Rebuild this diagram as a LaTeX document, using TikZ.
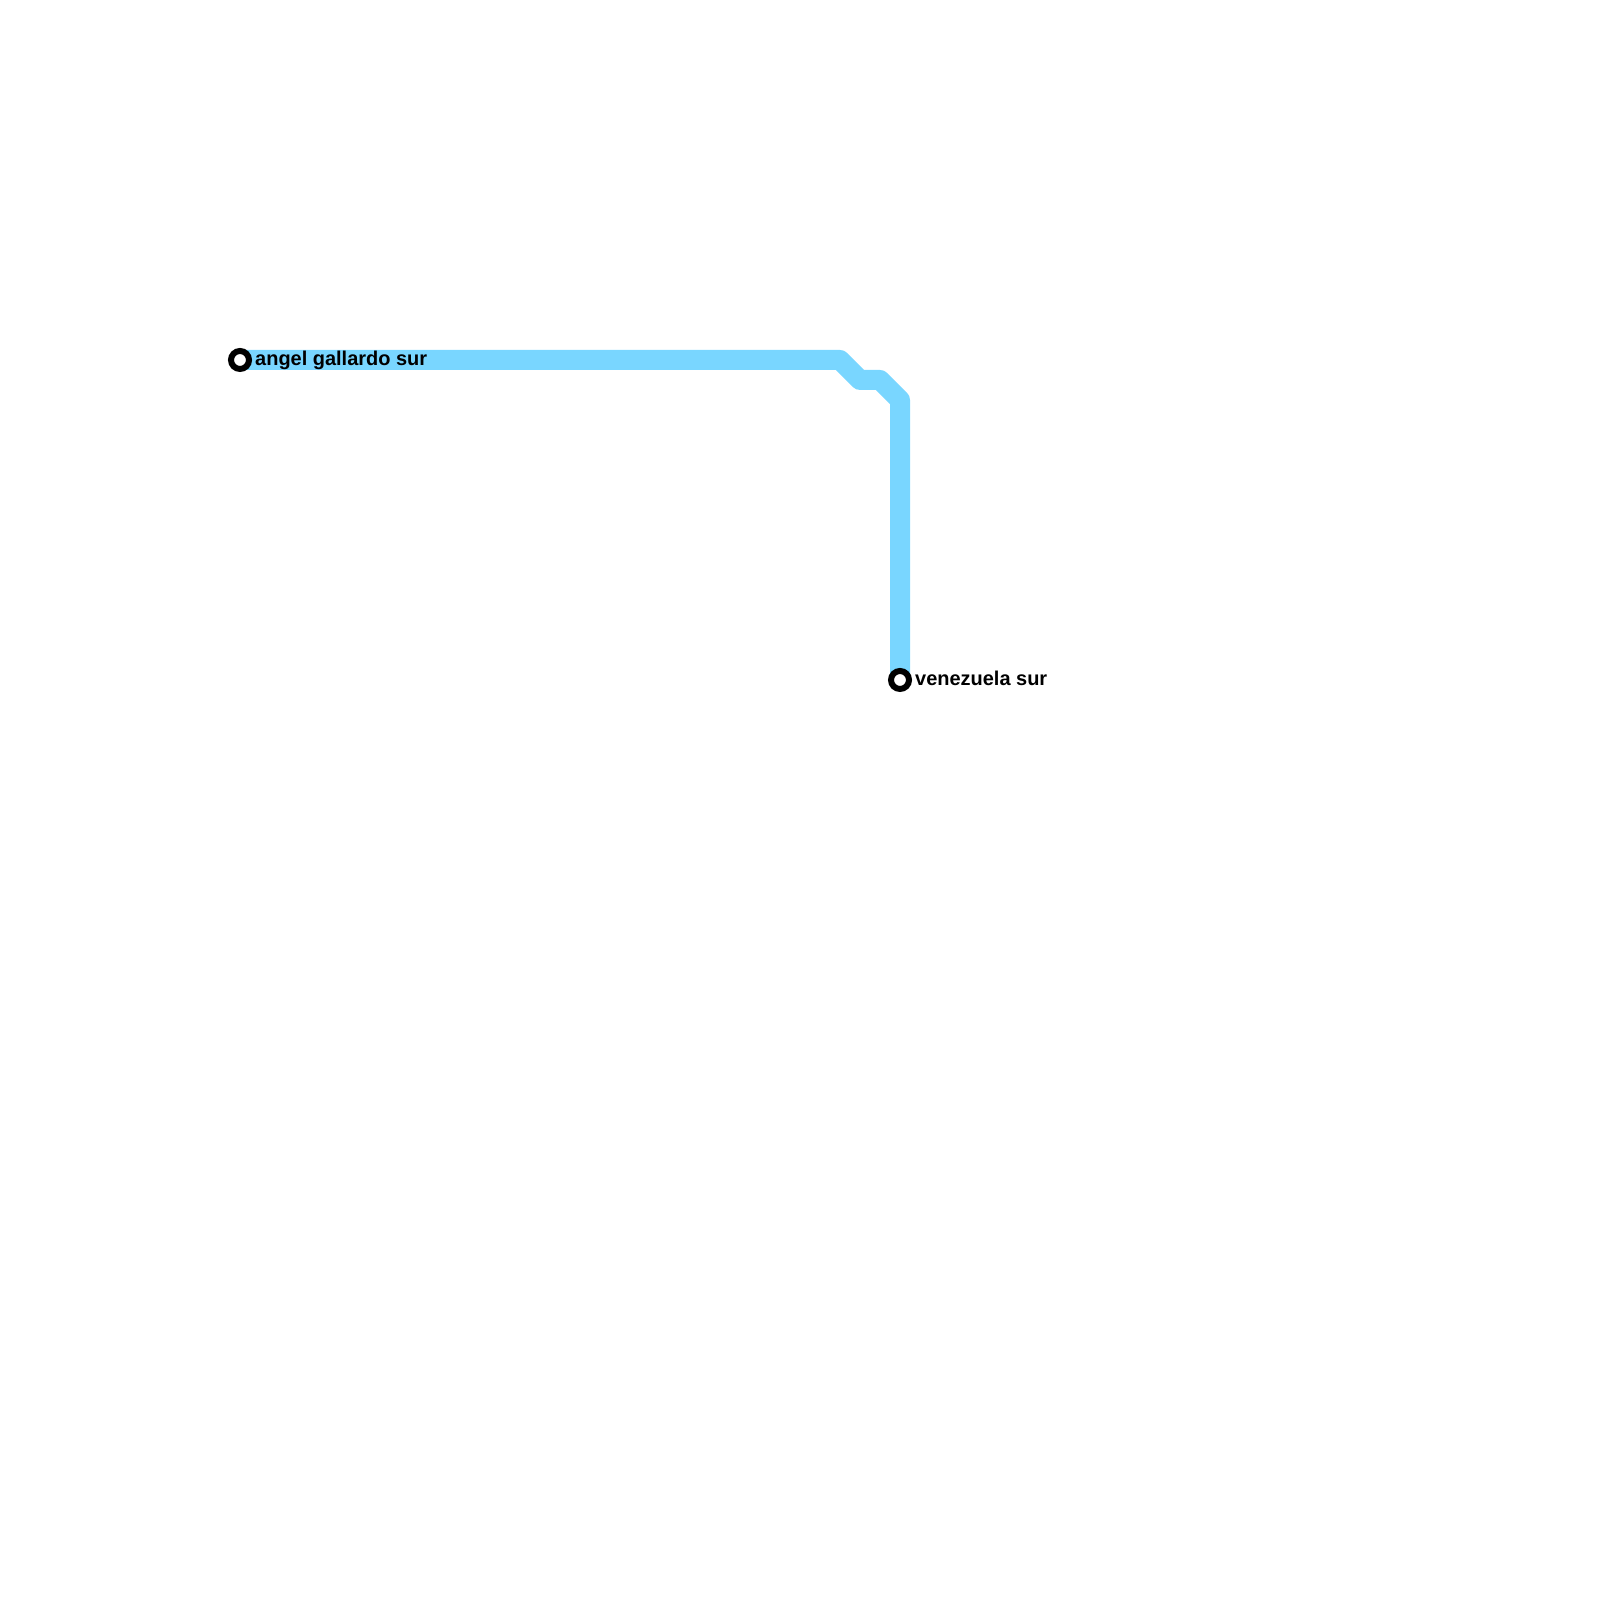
\documentclass[tikz,border=0pt]{standalone}
\usepackage{fontspec}
\setmainfont{Liberation Sans}
\usetikzlibrary{positioning,backgrounds}
\definecolor{subteline}{RGB}{121, 214, 255}

\begin{document}
\begin{tikzpicture}[every node/.style={font=\bfseries\fontsize{5.68}{7}\selectfont},
    station/.style={circle, draw=black, fill=white, line width=0.06cm, minimum size=0.18cm, inner sep=0pt},
    stationname/.style={right=0.025cm of #1, inner sep=0pt, text=black, text height=4.2pt, text depth=1.2pt},
    subte/.style={subteline, line width=0.2cm, line join=round}]
  \useasboundingbox (0,0) rectangle (16,16);
  \node[station] (gallardo) at (2.4,12.4) {};
  \node[station] (venezuela) at (9,9.2) {};
  \node[stationname=gallardo] (gallardolabel) {angel gallardo sur};
  \node[stationname=venezuela] (venezuelalabel) {venezuela sur};
  \coordinate (bendA) at (8.4,12.4);
  \coordinate (bendB) at (8.6,12.2);
  \coordinate (bendC) at (8.8,12.2);
  \coordinate (bendD) at (9,12);
  \begin{scope}[on background layer]
    \draw[subte] (gallardo.center) -- (bendA) -- (bendB) -- (bendC) -- (bendD) -- (venezuela.center);
  \end{scope}
\end{tikzpicture}
\end{document}
